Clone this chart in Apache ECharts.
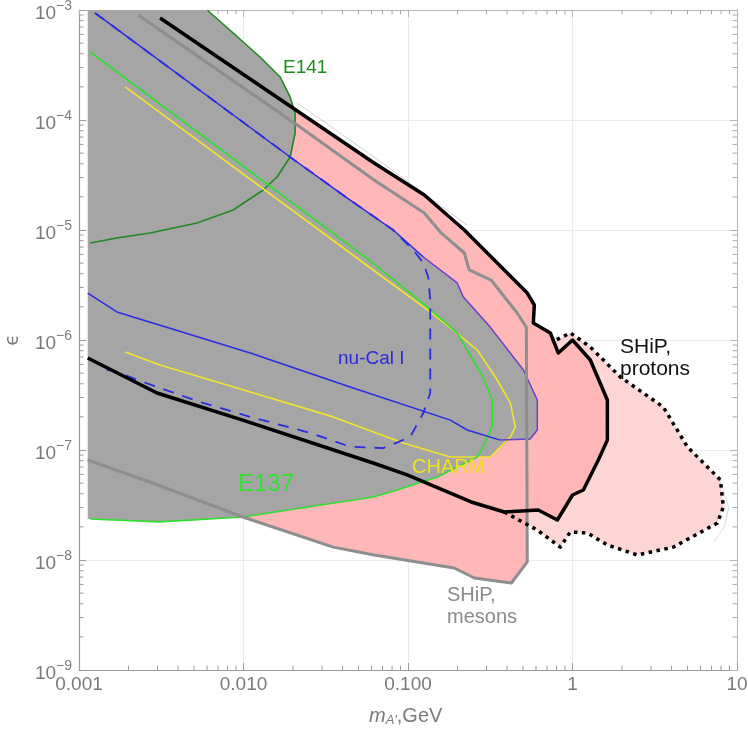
<!DOCTYPE html>
<html><head><meta charset="utf-8">
<script src="https://cdn.jsdelivr.net/npm/echarts@6/dist/echarts.min.js"></script>
<style>html,body{margin:0;padding:0;background:#fff}#c{width:748px;height:731px}</style>
</head><body><div id="c"></div>
<script>
// ---- tick labels ----
const xTickLabels = ['0.001', '0.010', '0.100', '1', '10'];
const yTickPowers = ['\u22129', '\u22128', '\u22127', '\u22126', '\u22125', '\u22124', '\u22123'];
const minorMultipliers = [2, 3, 4, 5, 6, 7, 8, 9];
const xDecades = [0.001, 0.01, 0.1, 1];
const yDecades = [1e-9, 1e-8, 1e-7, 1e-6, 1e-5, 1e-4];

// ---- regions / curves: [m_A' (GeV), epsilon] ----
const excludedRegion = [
  [0.00113, 1e-3], [0.00601, 1e-3], [0.00865, 6.18e-4], [0.0126, 3.74e-4], [0.0167, 2.46e-4],
  [0.0192, 1.62e-4], [0.0206, 1.16e-4], [0.0206, 7.62e-5], [0.0198, 5.34e-5], [0.0192, 4.61e-5],
  [0.0445, 1.87e-5], [0.0813, 1.0e-5], [0.124, 5.68e-6], [0.199, 3.3e-6], [0.217, 2.46e-6],
  [0.316, 1.31e-6], [0.503, 5.34e-7], [0.611, 2.85e-7], [0.611, 1.52e-7], [0.553, 1.26e-7],
  [0.419, 1.26e-7], [0.316, 8.64e-8], [0.264, 8.64e-8], [0.151, 5.68e-8], [0.0859, 4.33e-8],
  [0.0614, 3.74e-8], [0.0099, 2.46e-8], [0.00311, 2.22e-8], [0.00113, 2.36e-8]
];
const e141Curve = [
  [0.00601, 1e-3], [0.00865, 6.18e-4], [0.0126, 3.74e-4], [0.0167, 2.46e-4], [0.0192, 1.62e-4],
  [0.0206, 1.16e-4], [0.0206, 7.62e-5], [0.0192, 4.61e-5], [0.016, 3.03e-5], [0.0132, 2.31e-5],
  [0.00865, 1.52e-5], [0.00522, 1.16e-5], [0.0027, 9.4e-6], [0.0017, 8.46e-6], [0.00117, 7.62e-6]
];
const shipProtonsSolid = [
  [0.00311, 8.46e-4], [0.0622, 4.06e-5], [0.1256, 2.08e-5], [0.22, 1.0e-5], [0.531, 2.67e-6],
  [0.586, 2.08e-6], [0.578, 1.43e-6], [0.733, 1.16e-6], [0.82, 7.62e-7], [1.0, 1.0e-6],
  [1.283, 6.58e-7], [1.629, 2.85e-7], [1.629, 1.23e-7], [1.435, 8.11e-8], [1.164, 4.33e-8],
  [1.0, 3.9e-8], [0.809, 2.31e-8], [0.619, 2.85e-8], [0.385, 2.73e-8], [0.242, 3.37e-8],
  [0.0989, 5.93e-8], [0.0614, 7.62e-8], [0.0099, 1.87e-7], [0.00298, 3.3e-7], [0.00113, 6.86e-7]
];
const shipProtonsDotted = [
  [0.385, 2.73e-8], [0.611, 1.87e-8], [0.843, 1.31e-8], [0.97, 1.8e-8], [1.23, 1.76e-8],
  [1.629, 1.37e-8], [2.477, 1.11e-8], [4.104, 1.31e-8], [7.6, 2.17e-8], [8.26, 3.03e-8],
  [7.93, 5.34e-8], [4.99, 1.07e-7], [3.565, 2.46e-7], [1.954, 4.61e-7], [1.283, 8.64e-7],
  [0.97, 1.16e-6], [0.753, 9.6e-7]
];
const shipMesons = [
  [0.00229, 9.0e-4], [0.0212, 9.0e-5], [0.0622, 2.85e-5], [0.1256, 1.43e-5], [0.159, 9.4e-6],
  [0.22, 6.18e-6], [0.2355, 4.33e-6], [0.32, 3.51e-6], [0.461, 1.76e-6], [0.524, 1.31e-6],
  [0.531, 9.6e-9], [0.425, 6.18e-9], [0.253, 6.86e-9], [0.191, 8.46e-9], [0.0622, 1.11e-8],
  [0.0351, 1.31e-8], [0.0099, 2.46e-8], [0.0027, 5.12e-8], [0.00113, 8.11e-8]
];
const nuCalUpper = [
  [0.00125, 9.4e-4], [0.0192, 4.61e-5], [0.0445, 1.87e-5], [0.0813, 1.0e-5], [0.124, 5.68e-6]
];
const nuCalEdge = [
  [0.124, 5.68e-6], [0.199, 3.3e-6], [0.217, 2.46e-6], [0.316, 1.31e-6], [0.503, 5.34e-7],
  [0.611, 2.85e-7], [0.611, 1.52e-7], [0.553, 1.26e-7], [0.364, 1.23e-7]
];
const nuCalLower = [
  [0.364, 1.23e-7], [0.229, 1.52e-7], [0.181, 1.87e-7], [0.0445, 3.74e-7], [0.011, 7.62e-7],
  [0.0017, 1.8e-6], [0.00113, 2.67e-6]
];
const nuCalDashed = [
  [0.00125, 9.4e-4], [0.0192, 4.61e-5], [0.0445, 1.87e-5], [0.0813, 1.0e-5], [0.1077, 6.58e-6],
  [0.124, 5.01e-6], [0.1327, 3.74e-6], [0.1365, 2.31e-6], [0.1365, 3.3e-7], [0.124, 2.17e-7],
  [0.103, 1.31e-7], [0.0706, 1.04e-7], [0.0445, 1.07e-7], [0.0254, 1.43e-7], [0.011, 2.0e-7],
  [0.00545, 2.73e-7], [0.00245, 4.15e-7], [0.0017, 5.12e-7], [0.00134, 5.56e-7]
];
const e137Curve = [
  [0.00117, 4.15e-4], [0.0614, 5.01e-6], [0.131, 2.0e-6], [0.199, 1.16e-6], [0.229, 8.11e-7],
  [0.286, 4.61e-7], [0.325, 2.85e-7], [0.325, 1.62e-7], [0.286, 1.07e-7], [0.264, 8.64e-8],
  [0.151, 5.68e-8], [0.0859, 4.33e-8], [0.0614, 3.74e-8], [0.0099, 2.46e-8], [0.00311, 2.22e-8],
  [0.00117, 2.36e-8]
];
const charmCurve = [
  [0.00191, 2.0e-4], [0.0614, 4.33e-6], [0.1365, 1.8e-6], [0.188, 1.23e-6], [0.264, 8.11e-7],
  [0.349, 4.33e-7], [0.419, 2.67e-7], [0.449, 1.62e-7], [0.419, 1.31e-7], [0.316, 8.64e-8],
  [0.181, 8.64e-8], [0.0935, 1.16e-7], [0.0351, 2.0e-7], [0.011, 3.37e-7], [0.00311, 5.93e-7],
  [0.00191, 7.78e-7]
];
const thinOutline = [[0.0212, 1.43e-4], [0.0622, 4.61e-5], [0.229, 1.11e-5]];
const thinArc = [[7.8, 5.6e-8], [8.9, 3.0e-8], [8.4, 2.0e-8], [7.2, 1.45e-8]];

const FONT = '"Liberation Sans", Arial, sans-serif';
const GREY_TXT = '#7a7a7a';

function polySeries(pts, color) {
  return {
    type: 'custom', silent: true, coordinateSystem: 'cartesian2d', clip: true,
    data: [[1, 1e-6]],
    renderItem: function (params, api) {
      return { type: 'polygon', shape: { points: pts.map(p => api.coord(p)) }, style: { fill: color } };
    }
  };
}
function lineSeries(pts, color, width, type) {
  return {
    type: 'line', data: pts, showSymbol: false, silent: true, clip: true,
    lineStyle: { color: color, width: width, type: type || 'solid', cap: 'butt', join: 'round' },
    animation: false
  };
}
// minor ticks on all four frame sides, placed through the axis scales
const minorTickSeries = {
  type: 'custom', silent: true, coordinateSystem: 'cartesian2d', clip: false, z: 10,
  data: [[1, 1e-6]],
  renderItem: function (params, api) {
    const children = [];
    const L = 4.5;
    const tick = (a, b, c) => ({ type: 'polyline', shape: { points: [a, b] }, style: { stroke: c, lineWidth: 1, fill: null } });
    xDecades.forEach(d => minorMultipliers.forEach(k => {
      const b = api.coord([d * k, 1e-9]);
      const t = api.coord([d * k, 1e-3]);
      children.push(tick(b, [b[0], b[1] - L], '#999'));
      children.push(tick(t, [t[0], t[1] + L], '#aaa'));
    }));
    yDecades.forEach(d => minorMultipliers.forEach(k => {
      const l = api.coord([0.001, d * k]);
      const r = api.coord([10, d * k]);
      children.push(tick(l, [l[0] + L, l[1]], '#999'));
      children.push(tick(r, [r[0] - L, r[1]], '#aaa'));
    }));
    return { type: 'group', children: children };
  }
};

const chart = echarts.init(document.getElementById('c'), null, { renderer: 'canvas' });
const axisCommon = { type: 'log', logBase: 10 };
chart.setOption({
  animation: false,
  backgroundColor: '#fff',
  grid: { left: 79, right: 11, top: 10, bottom: 61, containLabel: false, outerBoundsMode: 'none' },
  xAxis: [{
    ...axisCommon, min: 0.001, max: 10, position: 'bottom',
    axisLine: { lineStyle: { color: '#9a9a9a', width: 1.2 } },
    axisTick: { inside: true, length: 7, lineStyle: { color: '#9a9a9a' } },
    splitLine: { show: true, lineStyle: { color: '#ebebeb', width: 1 } },
    axisLabel: {
      margin: 5, fontSize: 19, color: GREY_TXT, fontFamily: FONT,
      formatter: v => xTickLabels[Math.round(Math.log10(v)) + 3]
    }
  }, {
    ...axisCommon, min: 0.001, max: 10, position: 'top',
    axisLine: { show: true, lineStyle: { color: '#b5b5b5' } },
    axisTick: { inside: true, length: 7, lineStyle: { color: '#b5b5b5' } },
    axisLabel: { show: false }, splitLine: { show: false }
  }],
  yAxis: [{
    ...axisCommon, min: 1e-9, max: 1e-3, position: 'left',
    name: '\u03f5', nameLocation: 'middle', nameGap: 56, nameRotate: 90,
    nameTextStyle: { fontSize: 19, color: GREY_TXT, fontFamily: '"DejaVu Sans", sans-serif' },
    axisLine: { show: true, lineStyle: { color: '#9a9a9a', width: 1.2 } },
    axisTick: { inside: true, length: 7, lineStyle: { color: '#9a9a9a' } },
    splitLine: { show: true, lineStyle: { color: '#ebebeb', width: 1 } },
    axisLabel: {
      margin: 7, color: GREY_TXT, fontFamily: FONT,
      formatter: v => '{b|10}{s|' + yTickPowers[Math.round(Math.log10(v)) + 9] + '}',
      rich: {
        b: { fontSize: 19, color: GREY_TXT, fontFamily: FONT, padding: [7, 0, 0, 0] },
        s: { fontSize: 14, color: GREY_TXT, fontFamily: FONT, padding: [0, 0, 7, 0] }
      }
    }
  }, {
    ...axisCommon, min: 1e-9, max: 1e-3, position: 'right',
    axisLine: { show: true, lineStyle: { color: '#b5b5b5' } },
    axisTick: { inside: true, length: 7, lineStyle: { color: '#b5b5b5' } },
    axisLabel: { show: false }, splitLine: { show: false }
  }],
  series: [
    polySeries(shipProtonsDotted, '#fdd5d5'),
    polySeries(shipProtonsSolid, '#ffb7b7'),
    polySeries(shipMesons, '#ffb7b7'),
    polySeries(excludedRegion, '#a5a5a5'),
    lineSeries(thinOutline, '#c8c8c8', 0.8),
    lineSeries(thinArc, '#d0d0d0', 0.8),
    lineSeries(e141Curve, '#1f8a1f', 1.6),
    lineSeries(charmCurve, '#f2e42a', 1.6),
    lineSeries(e137Curve, '#2fe02f', 1.6),
    lineSeries(nuCalUpper, '#2a2ae0', 1.5),
    lineSeries(nuCalEdge, '#6a40c8', 1.5),
    lineSeries(nuCalLower, '#2a2ae0', 1.5),
    lineSeries(nuCalDashed, '#2a2ae0', 1.8, [11, 9]),
    lineSeries(shipMesons, '#8e8e8e', 3),
    lineSeries(shipProtonsSolid, '#000000', 3.5),
    lineSeries(shipProtonsDotted, '#000000', 3.5, [3.5, 4.5]),
    minorTickSeries
  ],
  graphic: [
    { type: 'text', z: 100, left: 283, top: 58, silent: true, style: { text: 'E141', fill: '#1e8c1e', fontSize: 19, fontFamily: FONT } },
    { type: 'text', z: 100, left: 338, top: 349, silent: true, style: { text: 'nu-Cal I', fill: '#2a2ad8', fontSize: 19, fontFamily: FONT } },
    { type: 'text', z: 100, left: 238, top: 472, silent: true, style: { text: 'E137', fill: '#33e033', fontSize: 24, fontFamily: FONT } },
    { type: 'text', z: 100, left: 412, top: 457, silent: true, style: { text: 'CHARM', fill: '#efe01e', fontSize: 20, fontFamily: FONT } },
    { type: 'text', z: 100, left: 620, top: 336, silent: true, style: { text: 'SHiP,\nprotons', fill: '#111', fontSize: 21, lineHeight: 22, fontWeight: 500, fontFamily: FONT } },
    { type: 'text', z: 100, left: 447, top: 584, silent: true, style: { text: 'SHiP,\nmesons', fill: '#8a8a8a', fontSize: 20, lineHeight: 22, fontFamily: FONT } },
    { type: 'text', z: 100, left: 369, top: 706, silent: true, style: {
        text: '{m|m}{a|A\'}{n|,GeV}',
        rich: {
          m: { fontSize: 20, fontStyle: 'italic', fill: GREY_TXT, fontFamily: FONT },
          a: { fontSize: 13, fontStyle: 'italic', fill: GREY_TXT, fontFamily: FONT, padding: [9, 0, 0, 0] },
          n: { fontSize: 20, fill: GREY_TXT, fontFamily: FONT }
        }
      } }
  ]
});
</script>
</body></html>
